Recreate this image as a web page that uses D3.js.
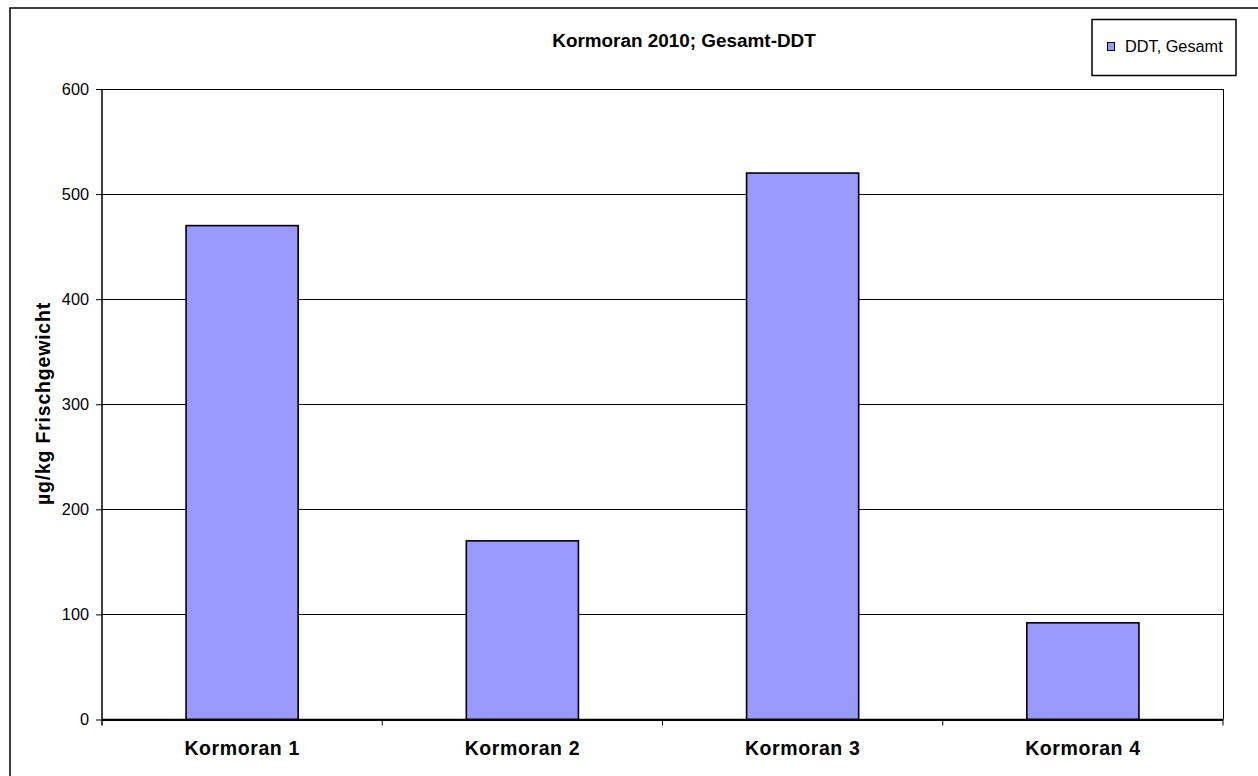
<!DOCTYPE html>
<html>
<head>
<meta charset="utf-8">
<script src="https://cdn.jsdelivr.net/npm/d3@7"></script>
<style>
  html, body { margin: 0; padding: 0; background: #ffffff; }
  svg { display: block; font-family: "Liberation Sans", Arial, sans-serif; }
</style>
</head>
<body>
<svg id="chart" width="1258" height="776"></svg>
<script>
// Gesamt-DDT per bird, µg/kg fresh weight
const categories = ["Kormoran 1", "Kormoran 2", "Kormoran 3", "Kormoran 4"];
const ddtValues = [470, 170, 520, 92];
const yTicks = [0, 100, 200, 300, 400, 500, 600];
const chartTitle = "Kormoran 2010; Gesamt-DDT";
const yAxisTitle = "µg/kg Frischgewicht";
const seriesName = "DDT, Gesamt";

const svg = d3.select("#chart");

// plot area
const plot = { left: 102, top: 89, right: 1223, bottom: 719.5 };

// outer chart frame (runs past the right and bottom edges)
svg.append("rect")
  .attr("x", 10).attr("y", 8)
  .attr("width", 1300).attr("height", 800)
  .attr("fill", "#fff").attr("stroke", "#000").attr("stroke-width", 1.5);

const x = d3.scaleBand()
  .domain(categories)
  .range([plot.left, plot.right])
  .paddingInner(0.6)
  .paddingOuter(0.3);

const xBand = d3.scaleBand()
  .domain(categories)
  .range([plot.left, plot.right])
  .padding(0);

const y = d3.scaleLinear()
  .domain([0, 600])
  .range([plot.bottom, plot.top]);

// gridlines
svg.append("g")
  .selectAll("line")
  .data(yTicks)
  .join("line")
  .attr("x1", plot.left).attr("x2", plot.right)
  .attr("y1", d => Math.round(y(d)) + 0.5).attr("y2", d => Math.round(y(d)) + 0.5)
  .attr("stroke", "#000").attr("stroke-width", 1);

// right border of plot area
svg.append("line")
  .attr("x1", plot.right + 0.5).attr("x2", plot.right + 0.5)
  .attr("y1", plot.top).attr("y2", plot.bottom)
  .attr("stroke", "#000").attr("stroke-width", 1);

// bars
svg.append("g")
  .selectAll("rect")
  .data(categories.map((c, i) => ({ c, v: ddtValues[i] })))
  .join("rect")
  .attr("x", d => x(d.c))
  .attr("y", d => y(d.v))
  .attr("width", x.bandwidth())
  .attr("height", d => y(0) - y(d.v))
  .attr("fill", "#9999ff")
  .attr("stroke", "#000")
  .attr("stroke-width", 1.6);

// y axis
const yAxis = d3.axisLeft(y)
  .tickValues(yTicks)
  .tickSize(6)
  .tickPadding(7)
  .tickFormat(d3.format("d"));

const gy = svg.append("g")
  .attr("transform", `translate(${plot.left},0)`)
  .call(yAxis);
gy.select(".domain").remove();
gy.append("line")
  .attr("x1", 0).attr("x2", 0)
  .attr("y1", plot.top).attr("y2", plot.bottom + 6)
  .attr("stroke", "#000").attr("stroke-width", 1.5);
gy.selectAll(".tick line").attr("stroke", "#000");
gy.selectAll(".tick text")
  .attr("font-size", 16.3)
  .attr("font-family", "Liberation Sans, Arial, sans-serif")
  .attr("fill", "#000");

// x axis
const xAxis = d3.axisBottom(xBand).tickSize(0).tickPadding(22);
const gx = svg.append("g")
  .attr("transform", `translate(0,${plot.bottom})`)
  .call(xAxis);
gx.select(".domain").remove();
gx.append("line")
  .attr("x1", plot.left).attr("x2", plot.right)
  .attr("y1", 0).attr("y2", 0)
  .attr("stroke", "#000").attr("stroke-width", 1.5);
// category separator ticks
gx.selectAll(".sep")
  .data(categories.slice(1).concat(["__end"]))
  .join("line")
  .attr("class", "sep")
  .attr("x1", (d, i) => i < categories.length - 1 ? xBand(d) : plot.right)
  .attr("x2", (d, i) => i < categories.length - 1 ? xBand(d) : plot.right)
  .attr("y1", 0).attr("y2", 6)
  .attr("stroke", "#000").attr("stroke-width", 1);
gx.selectAll(".tick text")
  .attr("font-size", 19.5)
  .attr("font-weight", "bold")
  .attr("letter-spacing", "0.6px")
  .attr("font-family", "Liberation Sans, Arial, sans-serif")
  .attr("fill", "#000")
  .attr("dy", "0.71em");

// title
svg.append("text")
  .attr("x", 684).attr("y", 47)
  .attr("text-anchor", "middle")
  .attr("font-size", 18.9)
  .attr("font-weight", "bold")
  .text(chartTitle);

// y axis title
svg.append("text")
  .attr("transform", `translate(50,${(303 + 504) / 2}) rotate(-90)`)
  .attr("text-anchor", "middle")
  .attr("font-size", 19.5)
  .attr("font-weight", "bold")
  .attr("letter-spacing", "0.8px")
  .text(yAxisTitle);

// legend
const lg = svg.append("g");
lg.append("rect")
  .attr("x", 1092).attr("y", 19.5)
  .attr("width", 144).attr("height", 56)
  .attr("fill", "#fff").attr("stroke", "#000").attr("stroke-width", 1.5);
lg.append("rect")
  .attr("x", 1107.5).attr("y", 42.5)
  .attr("width", 7).attr("height", 8)
  .attr("fill", "#9999ff").attr("stroke", "#000").attr("stroke-width", 1);
lg.append("text")
  .attr("x", 1125).attr("y", 52)
  .attr("font-size", 16.3)
  .text(seriesName);
</script>
</body>
</html>
